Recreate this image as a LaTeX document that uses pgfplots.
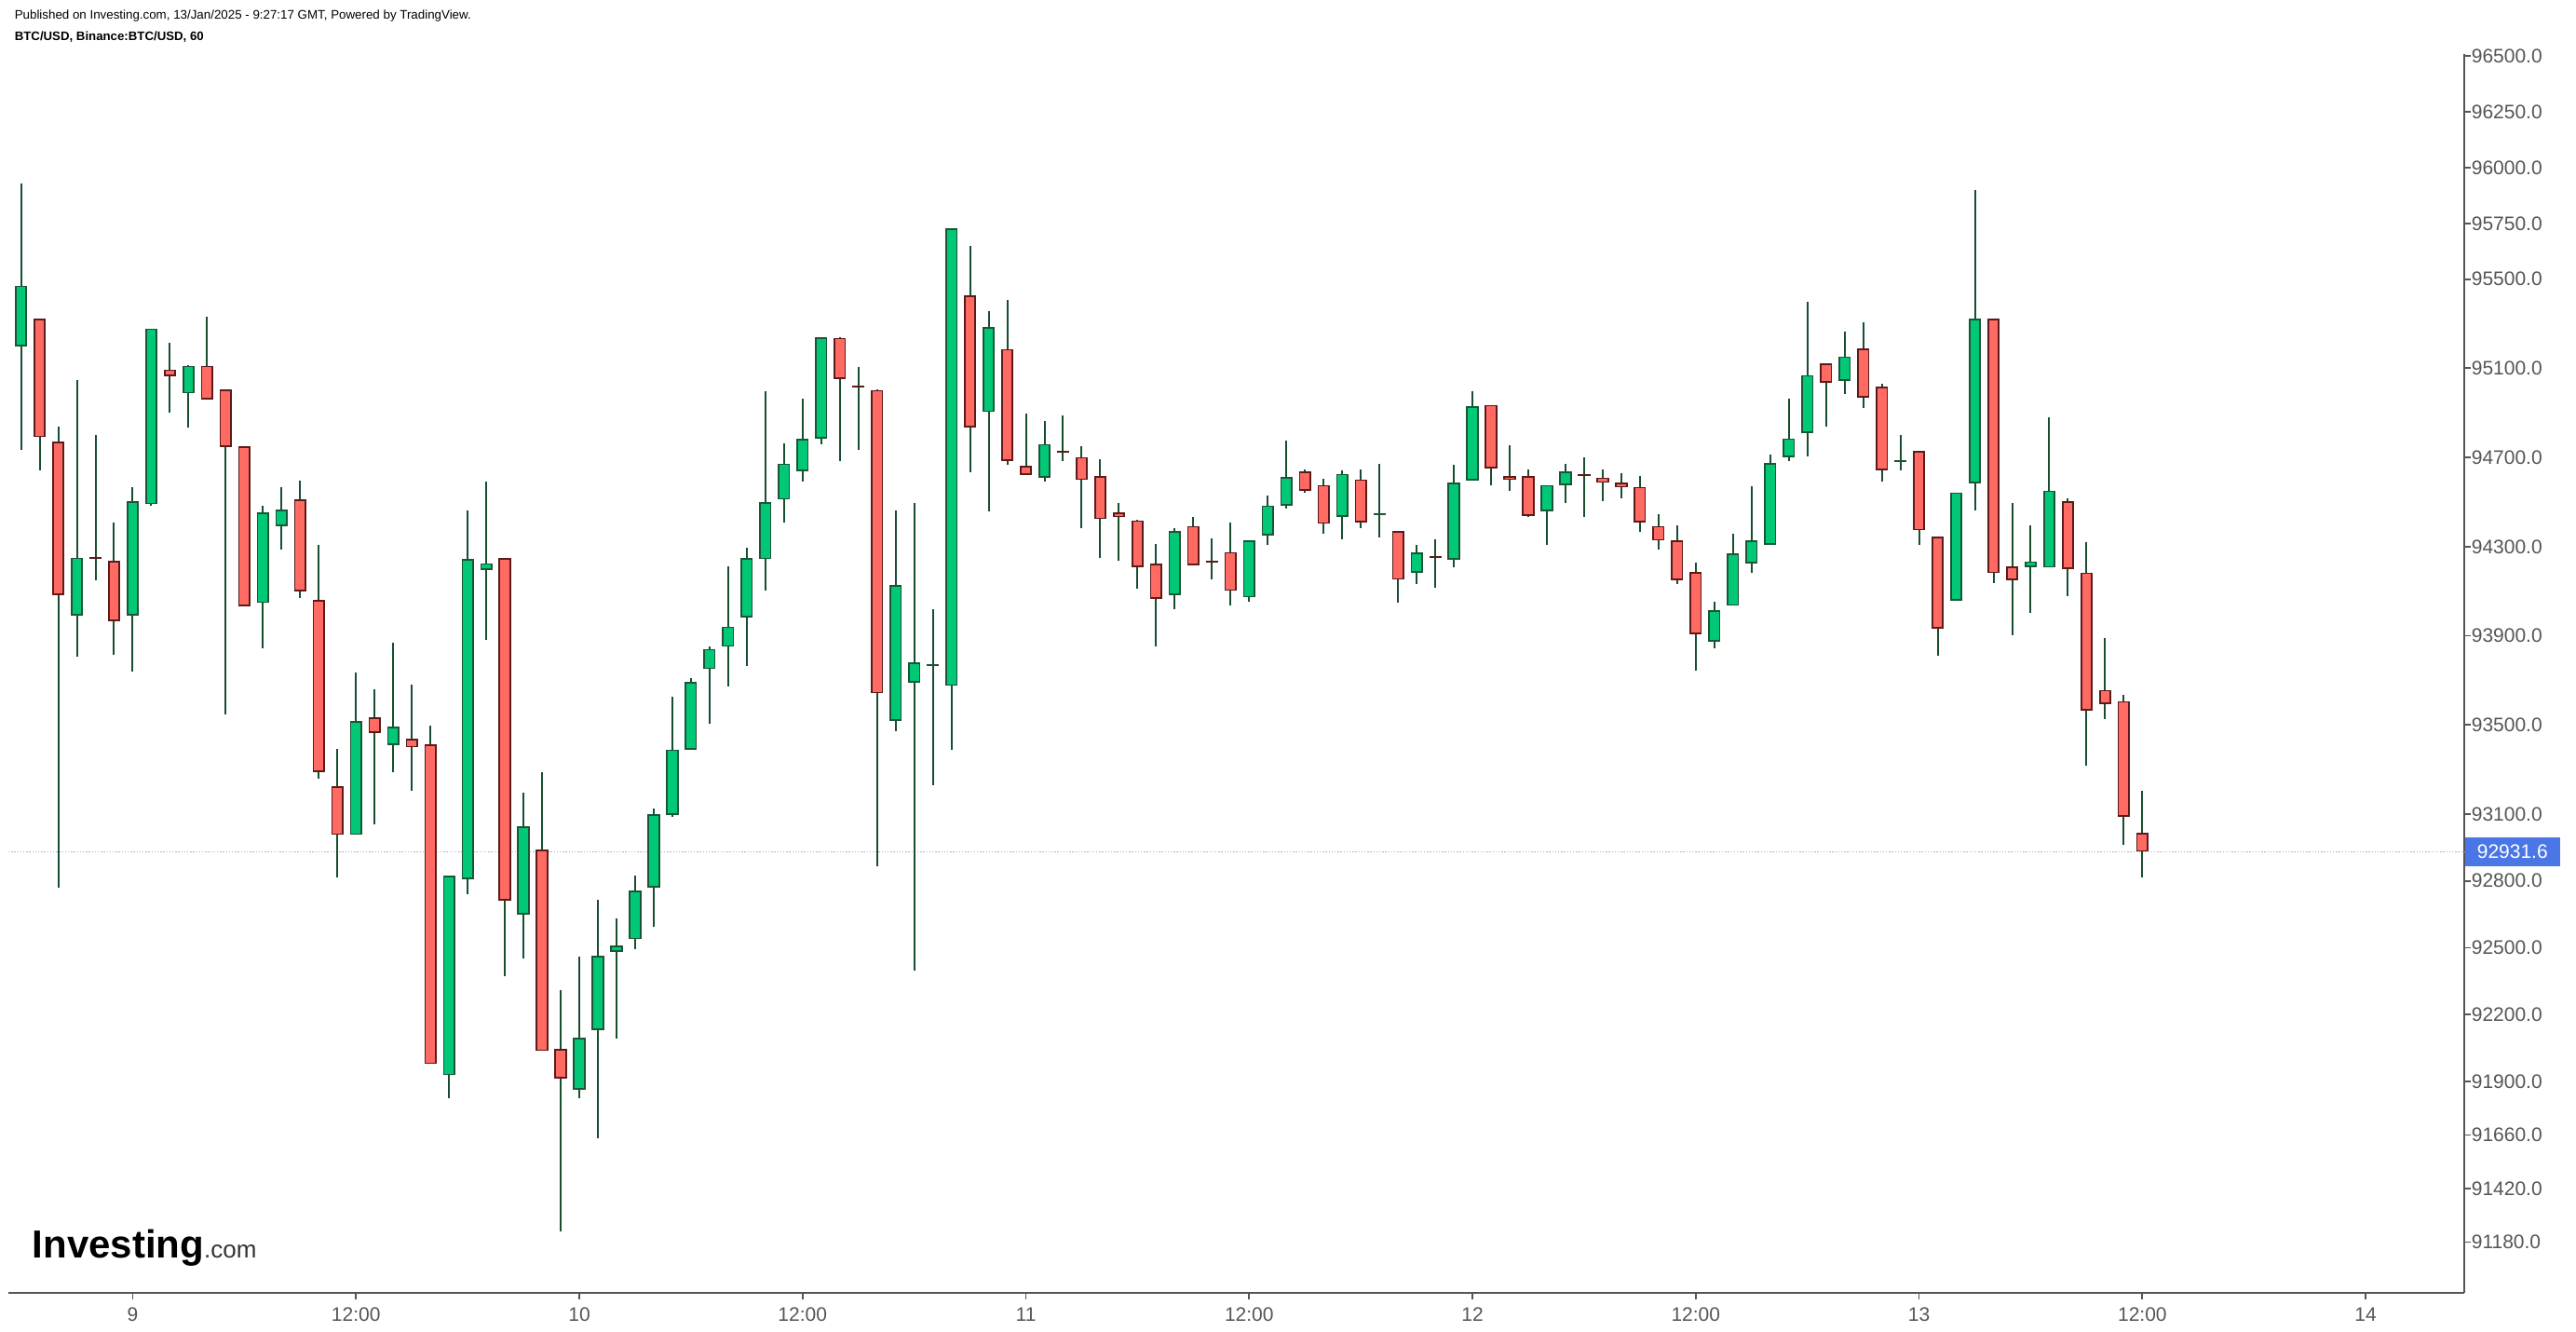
\documentclass[border=0pt]{standalone}
\usepackage{fontspec}
\setmainfont{Liberation Sans}
\usepackage{graphicx}
\usepackage{pgfplots}
\usepackage{pgfplotstable}
\pgfplotsset{compat=1.18}
\definecolor{upfill}{RGB}{0,200,118}
\definecolor{downfill}{RGB}{255,106,99}
\definecolor{upborder}{RGB}{26,86,54}
\definecolor{downborder}{RGB}{92,26,26}
\definecolor{wick}{RGB}{24,78,48}
\definecolor{axisgray}{RGB}{85,85,85}
\definecolor{pricebox}{RGB}{74,118,230}
\definecolor{priceline}{RGB}{165,178,225}

\pgfplotstableread{
t O H L C
-6 95201 95930 94733 95472
-5 95322 95322 94643 94792
-4 94771 94839 92770 94082
-3 93992 95048 93805 94250
-2 94252 94799 94147 94248
-1 94235 94406 93814 93967
0 93992 94565 93739 94503
1 94490 95279 94484 95279
2 95095 95216 94901 95064
3 94989 95113 94833 95113
4 95113 95331 94961 94961
5 95004 95004 93549 94746
6 94752 94752 94035 94035
7 94048 94484 93845 94453
8 94394 94565 94288 94468
9 94512 94596 94069 94101
10 94060 94306 93259 93290
11 93225 93393 92817 93007
12 93007 93736 93007 93518
13 93534 93661 93054 93465
14 93409 93870 93287 93493
15 93440 93680 93206 93400
16 93415 93496 91979 91979
17 91929 92823 91826 92823
18 92808 94462 92739 94244
19 94194 94590 93883 94225
20 94250 94250 92371 92714
21 92649 93194 92452 93047
22 92941 93287 92038 92038
23 92047 92309 91228 91913
24 91863 92459 91826 92097
25 92131 92717 91645 92465
26 92483 92633 92094 92511
27 92540 92826 92496 92758
28 92773 93125 92596 93100
29 93097 93627 93088 93390
30 93390 93708 93390 93692
31 93752 93854 93505 93842
32 93851 94213 93674 93942
33 93985 94297 93764 94250
34 94244 94998 94101 94500
35 94512 94761 94409 94674
36 94637 94964 94593 94783
37 94786 95238 94758 95238
38 95238 95238 94683 95054
39 95022 95107 94733 95018
40 95004 95004 92864 93643
41 93518 94462 93471 94126
42 93692 94496 92396 93783
43 93768 94020 93231 93772
44 93677 95730 93390 95730
45 95428 95649 94633 94836
46 94905 95356 94459 95285
47 95188 95406 94668 94686
48 94662 94898 94621 94621
49 94609 94864 94593 94761
50 94729 94889 94683 94725
51 94702 94749 94381 94599
52 94618 94690 94247 94425
53 94453 94496 94238 94434
54 94419 94419 94113 94210
55 94225 94313 93854 94066
56 94082 94381 94020 94369
57 94394 94431 94219 94219
58 94237 94337 94154 94233
59 94275 94406 94038 94101
60 94073 94328 94054 94328
61 94350 94531 94306 94484
62 94484 94774 94471 94612
63 94637 94646 94540 94552
64 94577 94605 94359 94403
65 94434 94640 94334 94627
66 94602 94646 94384 94409
67 94445 94671 94341 94449
68 94369 94369 94048 94151
69 94182 94306 94132 94275
70 94258 94331 94116 94254
71 94241 94665 94207 94587
72 94599 94998 94599 94930
73 94936 94936 94574 94652
74 94618 94755 94549 94599
75 94618 94646 94434 94440
76 94459 94577 94309 94577
77 94577 94671 94496 94637
78 94626 94699 94434 94622
79 94612 94646 94506 94587
80 94587 94630 94518 94568
81 94568 94615 94366 94409
82 94394 94447 94288 94328
83 94328 94397 94132 94151
84 94185 94228 93745 93907
85 93876 94054 93845 94017
86 94035 94356 94035 94269
87 94225 94571 94182 94328
88 94309 94715 94309 94677
89 94702 94964 94683 94786
90 94811 95400 94705 95070
91 95120 95120 94839 95035
92 95045 95266 94986 95154
93 95188 95307 94923 94967
94 95020 95032 94590 94643
95 94681 94799 94643 94685
96 94730 94730 94306 94375
97 94344 94344 93811 93932
98 94057 94543 94057 94543
99 94584 95899 94462 95322
100 95322 95322 94138 94182
101 94210 94496 93904 94151
102 94210 94397 94004 94235
103 94207 94880 94207 94552
104 94503 94518 94079 94200
105 94185 94322 93319 93565
106 93658 93889 93527 93593
107 93608 93636 92960 93088
108 93016 93203 92817 92931.6
}\candles

\begin{document}
\begin{tikzpicture}
\useasboundingbox (0,0) rectangle (691.5pt,357.5pt);
\node[anchor=west,inner sep=0pt,text=black] at (3.75pt,353.25pt) {\resizebox{122.5pt}{!}{Published on Investing.com, 13/Jan/2025 - 9:27:17 GMT, Powered by TradingView.}};
\node[anchor=west,inner sep=0pt,text=black] at (3.75pt,347.5pt) {\resizebox{50.75pt}{!}{\bfseries BTC/USD, Binance:BTC/USD, 60}};
\node[anchor=base west,inner sep=0pt] at (8.5pt,19.75pt) {\fontsize{10.5pt}{12pt}\selectfont\bfseries Investing\fontsize{6.5pt}{8pt}\selectfont\mdseries\textcolor{black!80}{.com}};

\begin{axis}[
  at={(2.25pt,10.5pt)}, anchor=south west,
  scale only axis, width=659.25pt, height=332.5pt,
  xmin=-6.68, xmax=125.3, ymin=90952, ymax=96510,
  axis x line*=bottom, axis y line*=right,
  axis line style={draw=axisgray, line width=0.6pt, -},
  tick align=outside, major tick length=1.75pt,
  tick style={draw=axisgray, line width=0.45pt},
  scaled y ticks=false, scaled x ticks=false,
  xtick={0,12,24,36,48,60,72,84,96,108,120},
  xticklabels={9,12:00,10,12:00,11,12:00,12,12:00,13,12:00,14},
  ytick={91180,91420,91660,91900,92200,92500,92800,93100,93500,93900,94300,94700,95100,95500,95750,96000,96250,96500},
  yticklabels={91180.0,91420.0,91660.0,91900.0,92200.0,92500.0,92800.0,93100.0,93500.0,93900.0,94300.0,94700.0,95100.0,95500.0,95750.0,96000.0,96250.0,96500.0},
  tick label style={font=\fontsize{5.25pt}{6pt}\selectfont, text=axisgray},
  yticklabel style={anchor=west, inner sep=0pt},
  xticklabel style={anchor=north, inner sep=0pt, yshift=-2pt},
  clip=false,
]
% price line
\addplot[priceline, line width=0.35pt, dash pattern=on 0.35pt off 0.45pt, forget plot] coordinates {(-6.68,92931.6) (125.3,92931.6)};
% wicks
\addplot[forget plot, draw=none, mark=none,
  error bars/.cd, y dir=plus, y explicit, error mark=none,
  error bar style={draw=wick, line width=0.5pt}]
  table[x=t, y=L, y error plus expr={\thisrow{H}-\thisrow{L}}] {\candles};
% up bodies: border then fill
\addplot[forget plot, draw=none, mark=none,
  restrict expr to domain={\thisrow{C}-\thisrow{O}}{0:100000},
  error bars/.cd, y dir=both, y explicit, error mark=none,
  error bar style={draw=upborder, line width=3.3pt}]
  table[x=t, y expr={(\thisrow{O}+\thisrow{C})/2}, y error expr={max(abs(\thisrow{C}-\thisrow{O})/2,4)}] {\candles};
\addplot[forget plot, draw=none, mark=none,
  restrict expr to domain={\thisrow{C}-\thisrow{O}}{0:100000},
  error bars/.cd, y dir=both, y explicit, error mark=none,
  error bar style={draw=upfill, line width=2.45pt}]
  table[x=t, y expr={(\thisrow{O}+\thisrow{C})/2}, y error expr={max(abs(\thisrow{C}-\thisrow{O})/2-7,0)}] {\candles};
% down bodies
\addplot[forget plot, draw=none, mark=none,
  restrict expr to domain={\thisrow{C}-\thisrow{O}}{-100000:-0.001},
  error bars/.cd, y dir=both, y explicit, error mark=none,
  error bar style={draw=downborder, line width=3.3pt}]
  table[x=t, y expr={(\thisrow{O}+\thisrow{C})/2}, y error expr={max(abs(\thisrow{C}-\thisrow{O})/2,4)}] {\candles};
\addplot[forget plot, draw=none, mark=none,
  restrict expr to domain={\thisrow{C}-\thisrow{O}}{-100000:-0.001},
  error bars/.cd, y dir=both, y explicit, error mark=none,
  error bar style={draw=downfill, line width=2.45pt}]
  table[x=t, y expr={(\thisrow{O}+\thisrow{C})/2}, y error expr={max(abs(\thisrow{C}-\thisrow{O})/2-7,0)}] {\candles};
% current price label
\node[anchor=west, fill=pricebox, text=white, inner xsep=3.25pt, inner ysep=0pt, minimum height=7.75pt, font=\fontsize{5.25pt}{6pt}\selectfont] at (axis cs:125.3,92931.6) {92931.6};
\end{axis}
\end{tikzpicture}
\end{document}
